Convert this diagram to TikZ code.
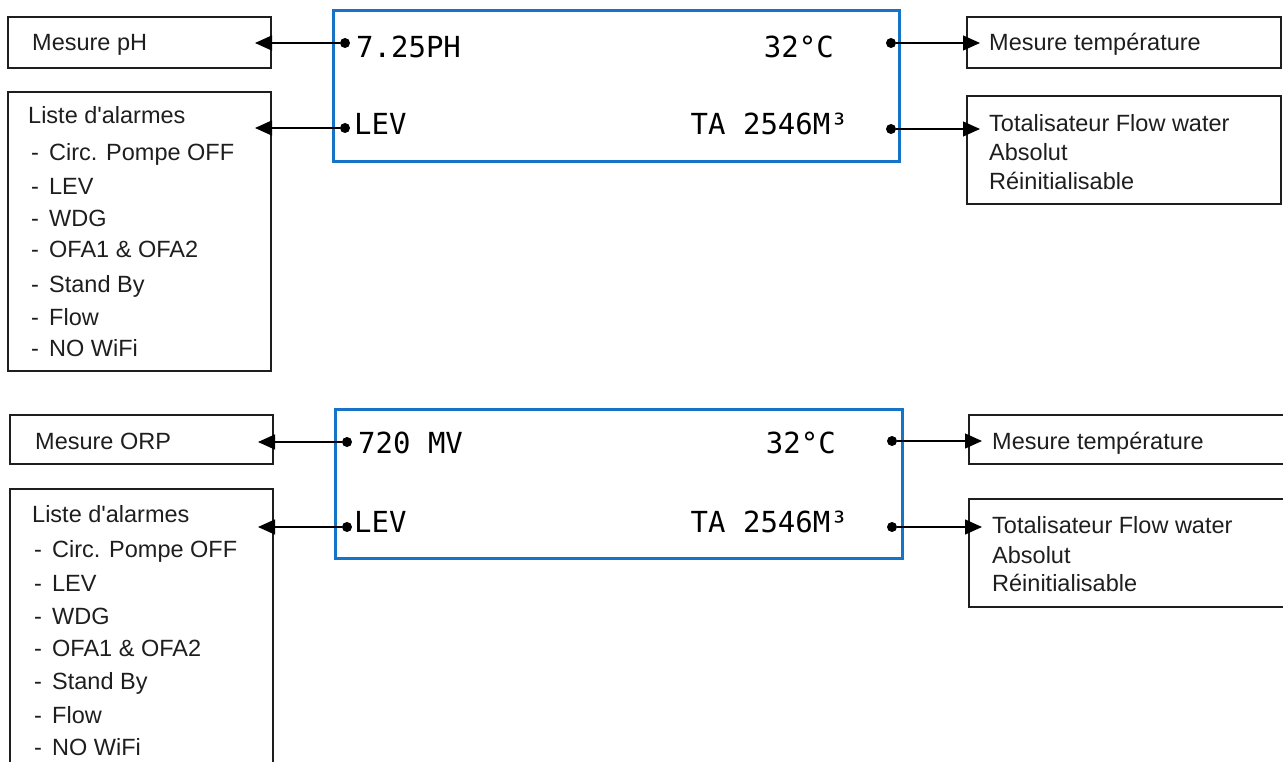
\documentclass[tikz,border=0pt]{standalone}
\usepackage{fontspec}
\setmainfont{Liberation Sans}
\newfontfamily\plainsans{Liberation Sans}
\newfontfamily\lcdfont{DejaVu Sans Mono}
\usetikzlibrary{arrows.meta}
\definecolor{lcdblue}{RGB}{22,116,200}
\definecolor{ink}{RGB}{30,30,30}
\tikzset{
  box/.style={draw=ink, line width=2pt, inner sep=0pt, outer sep=0pt, anchor=north west},
  lcdbox/.style={draw=lcdblue, line width=3pt, inner sep=0pt, outer sep=0pt, anchor=north west},
  lbl/.style={text=ink, font=\fontsize{23.5}{28}\selectfont, inner sep=0pt, anchor=base west},
  seg/.style={font=\lcdfont\fontsize{29}{34}\selectfont, inner sep=0pt},
  pin/.style={circle, fill=black, inner sep=0pt, minimum size=10pt},
  conn/.style={line width=1.3pt, draw=black, -{Triangle[length=17pt,width=15pt]}},
}
\newcommand{\itm}[1]{\makebox[18pt][l]{-}#1}
\newcommand{\apos}{{\plainsans'}}
\begin{document}
\begin{tikzpicture}[x=1pt,y=-1pt]
\path[use as bounding box] (0,0) rectangle (1283,762);
\clip (0,0) rectangle (1283,762);

% ===== upper display =====
\node[lcdbox, minimum width=566pt, minimum height=151pt] (lcdA) at (333,11) {};
\node[box, minimum width=263pt, minimum height=51pt] (phbox) at (8,17) {};
\node[box, minimum width=263pt, minimum height=279pt] (alA) at (8,92) {};
\node[box, minimum width=314pt, minimum height=51pt] (tempA) at (967,17) {};
\node[box, minimum width=314pt, minimum height=108pt] (totA) at (967,96) {};

\node[seg, anchor=base west] (phval) at (356,58) {7.25PH};
\node[seg, anchor=base east] (tA) at (834,58) {32°C};
\node[seg, anchor=base west] (levA) at (354,135) {LEV};
\node[seg, anchor=base east] (taA) at (848,135) {TA 2546M³};

\node[pin] (p1) at (345,43) {};
\node[pin] (p2) at (345,128) {};
\node[pin] (p3) at (891,43) {};
\node[pin] (p4) at (891,129) {};
\coordinate (t1) at (255,43);
\coordinate (t2) at (255,128);
\coordinate (t3) at (980,43);
\coordinate (t4) at (980,129);
\draw[conn] (p1) -- (t1);
\draw[conn] (p2) -- (t2);
\draw[conn] (p3) -- (t3);
\draw[conn] (p4) -- (t4);

\node[lbl] (phtxt) at (32,51) {Mesure pH};
\node[lbl] (alA0) at (28,124) {Liste d\apos alarmes};
\node[lbl] (alA1) at (31,161) {\itm{Circ. Pompe OFF}};
\node[lbl] (alA2) at (31,195) {\itm{LEV}};
\node[lbl] (alA3) at (31,227) {\itm{WDG}};
\node[lbl] (alA4) at (31,258) {\itm{OFA1 \& OFA2}};
\node[lbl] (alA5) at (31,292) {\itm{Stand By}};
\node[lbl] (alA6) at (31,325) {\itm{Flow}};
\node[lbl] (alA7) at (31,356) {\itm{NO WiFi}};
\node[lbl] (tempAtxt) at (989,51) {Mesure température};
\node[lbl] (totA1) at (989,132) {Totalisateur Flow water};
\node[lbl] (totA2) at (989,161) {Absolut};
\node[lbl] (totA3) at (989,190) {Réinitialisable};

% ===== lower display =====
\node[lcdbox, minimum width=567pt, minimum height=149pt] (lcdB) at (335,409) {};
\node[box, minimum width=263pt, minimum height=49pt] (orpbox) at (10,415) {};
\node[box, minimum width=263pt, minimum height=320pt] (alB) at (10,489) {};
\node[box, minimum width=330pt, minimum height=49pt] (tempB) at (969,415) {};
\node[box, minimum width=330pt, minimum height=108pt] (totB) at (969,499) {};

\node[seg, anchor=base west] (orpval) at (358,453) {720 MV};
\node[seg, anchor=base east] (tB) at (836,453) {32°C};
\node[seg, anchor=base west] (levB) at (354,532) {LEV};
\node[seg, anchor=base east] (taB) at (848,532) {TA 2546M³};

\node[pin] (q1) at (347,442) {};
\node[pin] (q2) at (347,527) {};
\node[pin] (q3) at (892,441) {};
\node[pin] (q4) at (892,527) {};
\coordinate (u1) at (258,442);
\coordinate (u2) at (258,527);
\coordinate (u3) at (982,441);
\coordinate (u4) at (982,527);
\draw[conn] (q1) -- (u1);
\draw[conn] (q2) -- (u2);
\draw[conn] (q3) -- (u3);
\draw[conn] (q4) -- (u4);

\node[lbl] (orptxt) at (35,449) {Mesure ORP};
\node[lbl] (alB0) at (32,522) {Liste d\apos alarmes};
\node[lbl] (alB1) at (34,557) {\itm{Circ. Pompe OFF}};
\node[lbl] (alB2) at (34,591) {\itm{LEV}};
\node[lbl] (alB3) at (34,624) {\itm{WDG}};
\node[lbl] (alB4) at (34,656) {\itm{OFA1 \& OFA2}};
\node[lbl] (alB5) at (34,689) {\itm{Stand By}};
\node[lbl] (alB6) at (34,723) {\itm{Flow}};
\node[lbl] (alB7) at (34,755) {\itm{NO WiFi}};
\node[lbl] (tempBtxt) at (992,449) {Mesure température};
\node[lbl] (totB1) at (992,533) {Totalisateur Flow water};
\node[lbl] (totB2) at (992,563) {Absolut};
\node[lbl] (totB3) at (992,591) {Réinitialisable};
\end{tikzpicture}
\end{document}
